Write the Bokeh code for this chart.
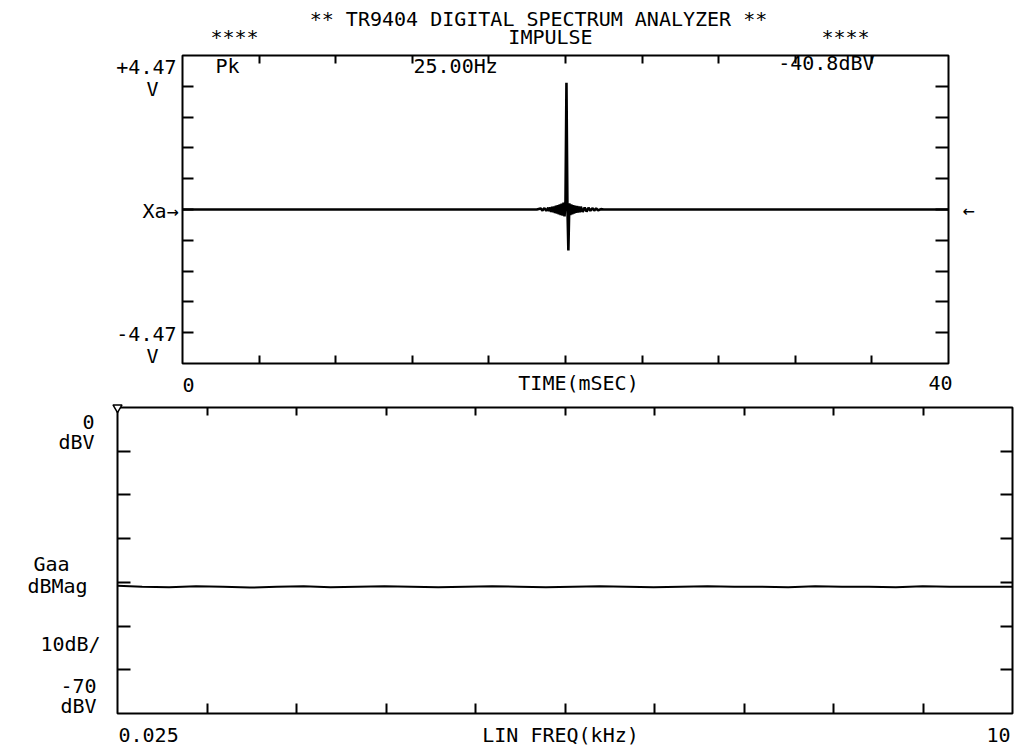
from bokeh.plotting import figure
from bokeh.models import Range1d, LinearAxis, FixedTicker, ColumnDataSource
from bokeh.core.properties import value
from bokeh.embed import file_html
from bokeh.resources import INLINE

# ---------------- data ----------------
# Time record (ms) and voltage (V) of the impulse response
time_ms = [0.0, 18.5, 18.7, 18.8, 18.9, 19.0, 19.1, 19.15, 19.2, 19.25, 19.3,
           19.35, 19.4, 19.45, 19.5, 19.55, 19.6, 19.65, 19.7, 19.75, 19.8,
           19.85, 19.9, 19.95, 20.0, 20.05, 20.1, 20.15, 20.2, 20.25, 20.3,
           20.35, 20.4, 20.45, 20.5, 20.55, 20.6, 20.65, 20.7, 20.75, 20.8,
           20.9, 21.0, 21.1, 21.2, 21.3, 21.4, 21.5, 21.6, 21.7, 21.85, 22.0,
           40.0]
volts = [0.0, 0.0, 0.03, -0.03, 0.04, -0.04, 0.05, -0.05, 0.06, -0.07, 0.08,
         -0.08, 0.09, -0.1, 0.11, -0.12, 0.13, -0.14, 0.15, -0.16, 0.17,
         -0.18, 0.2, -0.2, 0.25, 3.68, 0.1, -1.19, 0.18, -0.16, 0.15,
         -0.14, 0.13, -0.12, 0.11, -0.1, 0.1, -0.09, 0.09, -0.08, 0.08,
         -0.07, 0.06, -0.06, 0.05, -0.04, 0.04, -0.03, 0.03, -0.02, 0.01, 0.0,
         0.0]

# Auto spectrum Gaa (dBV) versus linear frequency (kHz)
freq_khz = [0.025, 0.3, 0.6, 0.9, 1.2, 1.5, 1.8, 2.1, 2.4, 2.7, 3.0, 3.3, 3.6,
            3.9, 4.2, 4.5, 4.8, 5.1, 5.4, 5.7, 6.0, 6.3, 6.6, 6.9, 7.2, 7.5,
            7.8, 8.1, 8.4, 8.7, 9.0, 9.3, 9.6, 10.0]
gaa_dbv = [-40.8, -41.0, -41.1, -40.9, -41.0, -41.2, -41.0, -40.9, -41.1, -41.0,
           -40.9, -41.0, -41.1, -41.0, -40.9, -41.0, -41.1, -41.0, -40.9, -41.0,
           -41.1, -41.0, -40.9, -41.0, -41.0, -41.1, -40.9, -41.0, -41.0, -41.1,
           -40.9, -41.0, -41.0, -41.0]
ref_level_dbv = [0.0]          # reference-level marker at the start frequency

# tick positions (one per graticule division)
time_ticks = [4, 8, 12, 16, 20, 24, 28, 32, 36]
volt_ticks = [-3.576, -2.682, -1.788, -0.894, 0.0, 0.894, 1.788, 2.682, 3.576]
freq_ticks = [1.0225, 2.02, 3.0175, 4.015, 5.0125, 6.01, 7.0075, 8.005, 9.0025]
db_ticks = [-10, -20, -30, -40, -50, -60]

# texts
title_text = "** TR9404 DIGITAL SPECTRUM ANALYZER **"
sub_text = "IMPULSE"
stars = "****"
top_left_labels = ["+4.47", "V", "Xa\u2192", "-4.47", "V"]
top_x_labels = ["0", "TIME(mSEC)", "40"]
readouts = ["Pk", "25.00Hz", "-40.8dBV"]
bot_left_labels = ["0", "dBV", "Gaa", "dBMag", "10dB/", "-70", "dBV"]
bot_x_labels = ["0.025", "LIN FREQ(kHz)", "10"]

# ---------------- layout ----------------
W = 1018
FONT = "DejaVu Sans Mono"
FS = "20px"

TOP_H = 398
T_L, T_R, T_T, T_B = 182, 948, 55, 363
BOT_H = 747 - TOP_H
B_L, B_R, B_T, B_B = 117, 1012, 407, 713   # page coordinates

T_X0, T_X1, T_Y0, T_Y1 = 0.0, 40.0, -4.47, 4.47
B_X0, B_X1, B_Y0, B_Y1 = 0.025, 10.0, -70.0, 0.0


def tx(px):
    return T_X0 + (px - T_L) / (T_R - T_L) * (T_X1 - T_X0)


def ty(py):
    return T_Y1 - (py - T_T) / (T_B - T_T) * (T_Y1 - T_Y0)


def bx(px):
    return B_X0 + (px - B_L) / (B_R - B_L) * (B_X1 - B_X0)


def by(py):
    return B_Y1 - (py - B_T) / (B_B - B_T) * (B_Y1 - B_Y0)


def style_axis(ax, ticks, tick_in):
    ax.ticker = FixedTicker(ticks=ticks)
    ax.axis_line_color = None
    ax.major_tick_in = tick_in
    ax.major_tick_out = 0
    ax.minor_tick_line_color = None
    ax.major_tick_line_color = "black"
    ax.major_tick_line_width = 2
    ax.major_label_text_color = None
    ax.major_label_text_font_size = "1px"
    ax.major_label_standoff = 0


def add_texts(p, items):
    """items: list of (text, x, y, align) in data coordinates."""
    for align in ("left", "center", "right"):
        sel = [it for it in items if it[3] == align]
        if not sel:
            continue
        src = ColumnDataSource(dict(x=[s[1] for s in sel], y=[s[2] for s in sel],
                                    t=[s[0] for s in sel]))
        p.text("x", "y", text="t", source=src, text_align=align,
               text_baseline="middle", text_font=value(FONT),
               text_font_size=value(FS), text_color="black", level="overlay")


def make_fig(h, rng_x, rng_y, left, right, top, bottom):
    p = figure(width=W, height=h, output_backend="svg", toolbar_location=None,
               x_range=Range1d(*rng_x), y_range=Range1d(*rng_y),
               x_axis_location=None, y_axis_location=None,
               min_border_left=left, min_border_right=right,
               min_border_top=top, min_border_bottom=bottom)
    p.grid.grid_line_color = None
    p.outline_line_color = "black"
    p.outline_line_width = 2
    p.background_fill_color = "white"
    p.border_fill_color = "white"
    return p


# ---------------- top plot: time record ----------------
p1 = make_fig(TOP_H, (T_X0, T_X1), (T_Y0, T_Y1), T_L, W - T_R, T_T, TOP_H - T_B)
for loc, ticks, tin in [("below", time_ticks, 8), ("above", time_ticks, 8),
                        ("left", volt_ticks, 11), ("right", volt_ticks, 13)]:
    ax = LinearAxis()
    style_axis(ax, ticks, tin)
    p1.add_layout(ax, loc)

p1.line(time_ms, volts, line_color="black", line_width=2.6)

add_texts(p1, [
    (title_text, tx(538), ty(18), "center"),
    (stars, tx(234), ty(36), "center"),
    (sub_text, tx(550), ty(36), "center"),
    (stars, tx(845), ty(36), "center"),
    (readouts[0], tx(215), ty(65), "left"),
    (readouts[1], tx(413), ty(65), "left"),
    (readouts[2], tx(874), ty(62), "right"),
    (top_left_labels[0], tx(176), ty(66), "right"),
    (top_left_labels[1], tx(158), ty(88), "right"),
    (top_left_labels[2], tx(178), ty(210), "right"),
    (top_left_labels[3], tx(176), ty(333), "right"),
    (top_left_labels[4], tx(158), ty(355), "right"),
    ("\u2190", tx(968), ty(209), "center"),
    (top_x_labels[0], tx(182), ty(384), "left"),
    (top_x_labels[1], tx(578), ty(382), "center"),
    (top_x_labels[2], tx(940), ty(382), "center"),
])

# ---------------- bottom plot: spectrum ----------------
p2 = make_fig(BOT_H, (B_X0, B_X1), (B_Y0, B_Y1), B_L, W - B_R, B_T - TOP_H, 747 - B_B)
for loc, ticks, tin in [("below", freq_ticks, 10), ("above", freq_ticks, 8),
                        ("left", db_ticks, 13), ("right", db_ticks, 12)]:
    ax = LinearAxis()
    style_axis(ax, ticks, tin)
    p2.add_layout(ax, loc)

p2.line(freq_khz, gaa_dbv, line_color="black", line_width=2)
p2.scatter(freq_khz[:1], ref_level_dbv, marker="inverted_triangle", size=9,
           fill_color="white", line_color="black", line_width=1.5, level="overlay")

add_texts(p2, [
    (bot_left_labels[0], bx(94), by(421), "right"),
    (bot_left_labels[1], bx(94), by(441), "right"),
    (bot_left_labels[2], bx(51), by(563), "center"),
    (bot_left_labels[3], bx(57), by(585), "center"),
    (bot_left_labels[4], bx(70), by(643), "center"),
    (bot_left_labels[5], bx(96), by(685), "right"),
    (bot_left_labels[6], bx(96), by(705), "right"),
    (bot_x_labels[0], bx(118), by(734), "left"),
    (bot_x_labels[1], bx(560), by(734), "center"),
    (bot_x_labels[2], bx(998), by(734), "center"),
])

open("out.html", "w").write(file_html([p1, p2], INLINE))
